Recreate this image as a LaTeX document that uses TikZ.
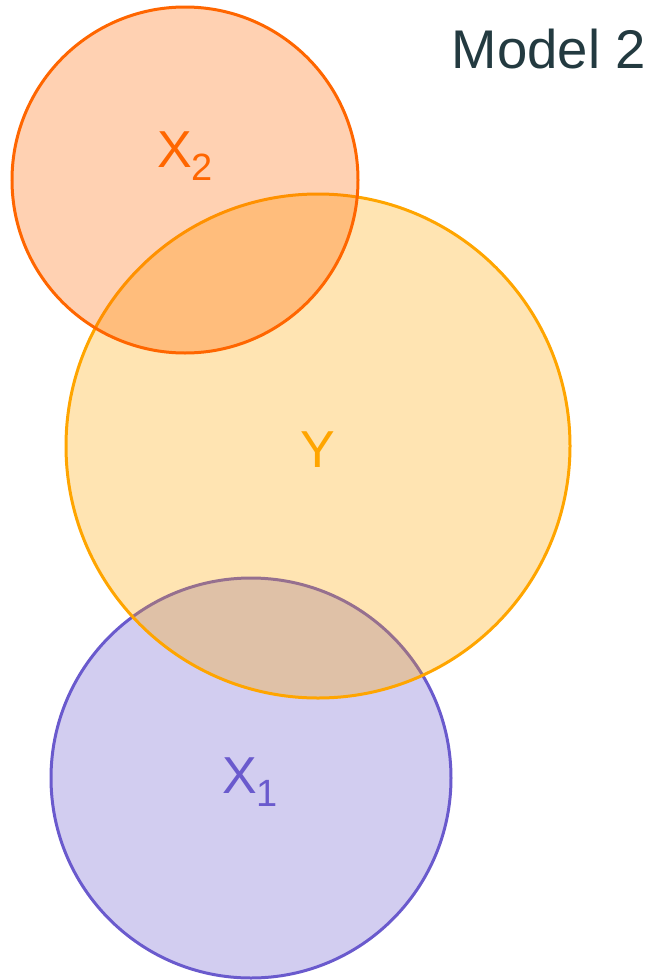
\documentclass[tikz,border=0pt]{standalone}
\usepackage{fontspec}
\setmainfont{Liberation Sans}
\definecolor{xtwo}{HTML}{FF6600}
\definecolor{ycol}{HTML}{FFA500}
\definecolor{xone}{HTML}{6A5ACD}
\definecolor{titlecol}{HTML}{233A40}
\tikzset{
  venn/.style={line width=3pt, fill=#1, draw=#1, fill opacity=0.3},
  lbl/.style={text=#1, inner sep=0pt, font=\fontsize{52}{60}\selectfont},
}
\newcommand{\subidx}[1]{\raisebox{-13pt}{\fontsize{38}{44}\selectfont #1}}
\begin{document}
\begin{tikzpicture}[x=1pt, y=-1pt]
			\useasboundingbox (0, 0) rectangle (652, 980);

			% Kreise
			\draw[venn=xone] (251, 778) circle[radius=200];
			\draw[venn=ycol] (318, 446) circle[radius=252];
			\draw[venn=xtwo] (185, 180) circle[radius=173];

			% Beschriftungen
			\node[lbl=xtwo, anchor=base] (labx2) at (185, 167) {X\subidx{2}};
			\node[lbl=ycol, anchor=base] (laby) at (318, 467) {Y};
			\node[lbl=xone, anchor=base] (labx1) at (250, 793) {X\subidx{1}};

			% Titel
			\node[lbl=titlecol, font=\fontsize{54.5}{62}\selectfont, anchor=base east] (title) at (646, 68) {Model 2};
		\end{tikzpicture}
\end{document}
